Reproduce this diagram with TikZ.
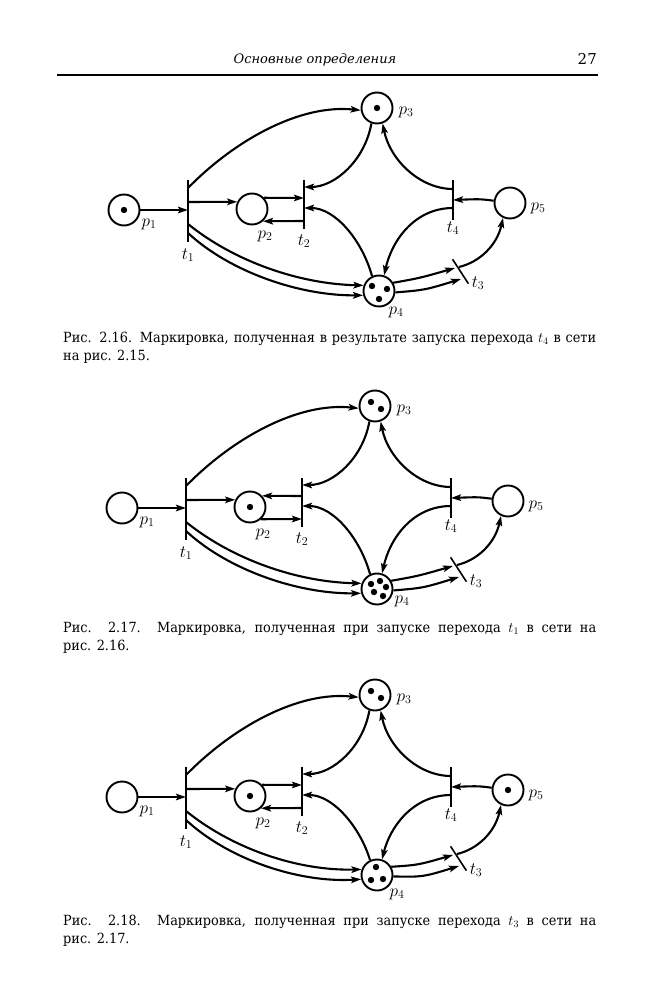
\documentclass[tikz,border=0pt]{standalone}
\usepackage{fontspec}
\setmainfont{DejaVu Serif}
\newfontfamily\capfont[FakeStretch=0.92]{DejaVu Serif}
\usetikzlibrary{arrows.meta}
\tikzset{
  place/.style={circle, draw, line width=1.9pt, minimum size=31pt, inner sep=0pt},
  tbar/.style={fill=black, inner sep=0pt, minimum width=2.3pt},
  arc/.style={line width=2.1pt, -{Stealth[length=10pt,width=6.5pt,inset=2pt]}},
  lbl/.style={font=\fontsize{16.5}{16.5}\selectfont, inner sep=0pt},
  captext/.style={font=\capfont\fontsize{14}{18}\selectfont, anchor=north west, align=left, inner sep=0pt},
}
\newcommand\petrinet[1]{%
  \node[place] (p1) at (124,210) {};
  \node[tbar, minimum height=62pt] (t1) at (188,211) {};
  \node[place] (p2) at (252,209) {};
  \node[tbar, minimum height=49pt] (t2) at (304,204.5) {};
  \node[place] (p3) at (377,108) {};
  \node[place] (p4) at (379,#1) {};
  \node[tbar, minimum height=40pt] (t4) at (453,200) {};
  \node[place] (p5) at (510,203) {};
  \node[tbar, minimum height=29pt, minimum width=1.6pt, rotate=33] (t3) at (460.5,271.5) {};
  \coordinate (t1a) at (188,188);
  \coordinate (t1b) at (188,202);
  \coordinate (t1c) at (188,210);
  \coordinate (t1d) at (188,224);
  \coordinate (t1e) at (188,233);
  \coordinate (t2a) at (304,187);
  \coordinate (t2b) at (304,198);
  \coordinate (t2c) at (304,208);
  \coordinate (t2d) at (304,221);
  \coordinate (t4a) at (453,189);
  \coordinate (t4b) at (453,200);
  \coordinate (t4c) at (453,208);
  \coordinate (t3a) at (455,268);
  \coordinate (t3b) at (461,279);
  \coordinate (t3c) at (459,267);
  \draw[arc] (p1) -- (t1c);
  \draw[arc] (t1a) .. controls (235,140) and (300,104) .. (p3.188);
  \draw[arc] (t1b) -- (p2.154);
  \draw[arc] (p3.250) .. controls (365,160) and (335,187) .. (t2a);
  \draw[arc] (p4.115) .. controls (362,240) and (335,208) .. (t2c);
  \draw[arc] (t4a) .. controls (420,189) and (390,160) .. (p3.290);
  \draw[arc] (t4c) .. controls (415,208) and (392,240) .. (p4.72);
  \draw[arc] (p5.172) .. controls (480,199) .. (t4b);
  \draw[arc] (t1d) .. controls (235,262) and (300,284) .. (p4.160);
  \draw[arc] (t1e) .. controls (230,272) and (300,296) .. (p4.195);
  \draw[arc] (p4.30) .. controls (420,278) .. (t3a);
  \draw[arc] (p4.-5) .. controls (425,290) .. (t3b);
  \draw[arc] (t3c) .. controls (480,262) and (497,245) .. (p5.245);
  \node[lbl] (lp1) at (149,224) {$p_1$};
  \node[lbl] (lp2) at (265,236) {$p_2$};
  \node[lbl] (lt1) at (188,255) {$t_1$};
  \node[lbl] (lt2) at (304,241) {$t_2$};
  \node[lbl] (lp3) at (406,112) {$p_3$};
  \node[lbl] (lt4) at (453,228) {$t_4$};
  \node[lbl] (lp5) at (538,208) {$p_5$};
  \node[lbl] (lt3) at (478,283) {$t_3$};
}
\newcommand\tok[3]{\fill (#1) ++(#2,#3) circle[radius=3.2pt];}
\begin{document}
\begin{tikzpicture}[x=1pt,y=-1pt]
\useasboundingbox[fill=white] (0,0) rectangle (652,1000);
% header
\node[font=\itshape\fontsize{13}{13}\selectfont, inner sep=0pt] (hdr) at (315,60) {Основные определения};
\node[font=\fontsize{15}{15}\selectfont, anchor=east, inner sep=0pt] (pg) at (597,59) {27};
\coordinate (rl) at (57,75);
\coordinate (rr) at (598,75);
\draw[line width=1.5pt] (rl) -- (rr);
% diagram 1
\begin{scope}[name prefix=a-]
  \petrinet{291}
  \draw[arc] (p2.43) -- (t2b);
  \draw[arc] (t2d) -- (p2.-48);
  \node[lbl] (lp4) at (396,312) {$p_4$};
  \tok{p1}{0}{0}
  \tok{p3}{0}{0}
  \tok{p4}{-7}{-5}\tok{p4}{8}{-2}\tok{p4}{0}{8}
\end{scope}
\node[captext] (c1) at (63,332) {\makebox[533pt][s]{Рис. 2.16. Маркировка, полученная в результате запуска перехода $t_4$ в сети}\\на рис. 2.15.};
% diagram 2
\begin{scope}[name prefix=b-, shift={(-2,298)}]
  \petrinet{291}
  \draw[arc] (t2b) -- (p2.43);
  \draw[arc] (p2.-48) -- (t2d);
  \node[lbl] (lp4) at (404,303) {$p_4$};
  \tok{p2}{0}{0}
  \tok{p3}{-4}{-4}\tok{p3}{6}{3}
  \tok{p4}{-6}{-5}\tok{p4}{3}{-8}\tok{p4}{9}{-2}\tok{p4}{-3}{3}\tok{p4}{6}{7}
\end{scope}
\node[captext] (c2) at (63,622) {\makebox[533pt][s]{Рис. 2.17. Маркировка, полученная при запуске перехода $t_1$ в сети на}\\рис. 2.16.};
% diagram 3
\begin{scope}[name prefix=c-, shift={(-2,587)}]
  \petrinet{288}
  \draw[arc] (p2.43) -- (t2b);
  \draw[arc] (t2d) -- (p2.-48);
  \node[lbl] (lp4) at (399,307) {$p_4$};
  \tok{p2}{0}{0}
  \tok{p3}{-4}{-4}\tok{p3}{6}{3}
  \tok{p4}{-1}{-8}\tok{p4}{-6}{5}\tok{p4}{6}{4}
  \tok{p5}{0}{0}
\end{scope}
\node[captext] (c3) at (63,915) {\makebox[533pt][s]{Рис. 2.18. Маркировка, полученная при запуске перехода $t_3$ в сети на}\\рис. 2.17.};
\end{tikzpicture}
\end{document}
